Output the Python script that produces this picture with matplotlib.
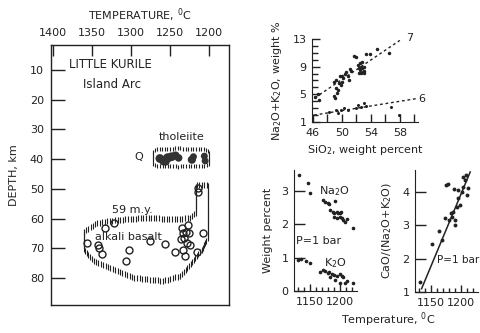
import numpy as np
import matplotlib.pyplot as plt

# ---- main panel: depth vs temperature ----
temp_ticks = [1400, 1350, 1300, 1250, 1200]
depth_ticks = [10, 20, 30, 40, 50, 60, 70, 80]

# alkali basalt samples (open circles)
ab_temp = [1357, 1342, 1341, 1337, 1334, 1322, 1302, 1307, 1276, 1257, 1244,
           1235, 1233, 1236, 1232, 1229, 1227, 1226, 1228, 1225, 1233, 1231,
           1216, 1208, 1214, 1214]
ab_depth = [68.4, 68.8, 70.0, 71.8, 63.3, 61.5, 70.7, 74.4, 67.6, 68.7, 71.4,
            63.3, 65.0, 66.9, 66.7, 64.4, 62.2, 65.0, 68.4, 68.9, 70.6, 72.6,
            71.2, 64.8, 49.6, 51.2]

# outline of the alkali basalt field
ab_field_t = [1360, 1344, 1320, 1282, 1244, 1224, 1217, 1217, 1201, 1201,
              1208, 1222, 1237, 1259, 1295, 1327, 1350, 1360, 1360]
ab_field_d = [64.5, 61.5, 60.5, 59.8, 60.2, 59.8, 58.1, 48.7, 48.7, 66.2,
              69.9, 75.0, 79.4, 81.0, 80.0, 76.7, 74.0, 70.6, 64.5]

# outline of the tholeiite field
th_field_t = [1272, 1268, 1240, 1205, 1200, 1200, 1205, 1240, 1268, 1272, 1272]
th_field_d = [37.5, 36.6, 36.4, 36.6, 37.5, 41.5, 42.3, 42.5, 42.3, 41.5, 37.5]

# dark tholeiite spots
th_temp = [1263, 1258, 1253, 1248, 1243, 1239, 1255, 1222, 1220, 1206, 1205]
th_depth = [39.8, 40.6, 39.6, 39.2, 38.8, 39.6, 41.0, 40.2, 39.2, 39.0, 40.6]
th_size = [40, 45, 45, 40, 35, 30, 25, 35, 25, 25, 25]

# ---- SiO2 panel ----
sio2_hi = [46.3, 46.9, 46.7, 48.9, 49.1, 49.4, 49.5, 49.2, 48.9, 49.2, 49.6,
           49.9, 50.0, 50.2, 49.8, 50.1, 50.4, 50.6, 50.8, 51.0, 51.1, 51.3,
           51.7, 51.9, 52.2, 52.4, 52.5, 52.6, 52.8, 53.0, 52.9, 53.1, 52.7,
           52.4, 53.1, 52.8, 52.5, 53.3, 53.9, 54.9, 56.5]
alk_hi = [4.6, 4.2, 5.0, 4.7, 4.4, 5.2, 5.6, 5.9, 6.8, 7.1, 6.6,
          6.4, 6.8, 7.3, 7.6, 7.7, 8.0, 8.3, 7.7, 7.1, 8.6, 8.4,
          10.5, 10.4, 9.3, 8.8, 8.5, 9.0, 8.8, 9.0, 8.3, 8.1, 8.1,
          8.1, 8.4, 9.7, 9.6, 10.8, 10.9, 11.5, 11.0]
sio2_lo = [48.3, 49.2, 49.5, 49.9, 50.3, 50.8, 51.9, 52.2, 52.6, 53.1, 53.4,
           56.8, 57.9]
alk_lo = [2.5, 2.7, 2.3, 2.7, 3.0, 2.7, 3.0, 3.5, 3.2, 3.7, 3.3, 3.1, 2.0]
line7_x = [46.3, 58.0]
line7_y = [4.5, 12.8]
line6_x = [46.2, 60.4]
line6_y = [2.0, 4.4]

# ---- Na2O, K2O vs temperature ----
na_t = [1132, 1146, 1150, 1171, 1175, 1179, 1182, 1191, 1183, 1188, 1190,
        1194, 1197, 1200, 1201, 1189, 1194, 1199, 1203, 1205, 1208, 1211, 1221]
na_v = [3.48, 3.23, 2.95, 2.73, 2.68, 2.63, 2.60, 2.70, 2.43, 2.38, 2.33,
        2.38, 2.35, 2.33, 2.38, 2.23, 2.20, 2.23, 2.18, 2.13, 2.08, 2.15, 1.88]
k_t = [1130, 1135, 1143, 1149, 1166, 1171, 1175, 1179, 1182, 1186, 1190,
       1194, 1199, 1203, 1205, 1183, 1191, 1200, 1208, 1211, 1222]
k_v = [0.93, 0.95, 0.90, 0.85, 0.58, 0.63, 0.60, 0.55, 0.58, 0.51, 0.48,
       0.45, 0.51, 0.45, 0.41, 0.43, 0.33, 0.25, 0.23, 0.31, 0.23]

# ---- CaO/(Na2O+K2O) vs temperature ----
ca_t = [1131, 1151, 1163, 1168, 1173, 1175, 1178, 1180, 1183, 1184, 1187,
        1189, 1190, 1193, 1195, 1198, 1195, 1188, 1201, 1203, 1206, 1208,
        1210, 1212, 1203]
ca_v = [1.31, 2.44, 2.84, 2.56, 3.21, 4.21, 4.24, 3.16, 3.36, 3.26, 3.41,
        3.01, 3.16, 3.56, 3.81, 3.61, 4.06, 4.08, 4.01, 4.16, 4.36, 4.51,
        3.91, 4.11, 4.46]
ca_fit_t = [1134, 1215]
ca_fit_v = [1.1, 4.6]

W, H = 481, 333
fig = plt.figure(figsize=(W / 100, H / 100), dpi=100)
plt.rcParams['font.family'] = 'DejaVu Sans'
ink = '#222222'


def px_axes(l, t, r, b):
    return fig.add_axes([l / W, 1 - b / H, (r - l) / W, (b - t) / H])


def ticked_outline(ax, xs, ys, step=2.6, ms=4.0):
    # vertical comb marks along a field outline
    pts = ax.transData.transform(np.column_stack([xs, ys]))
    seg = np.hypot(*np.diff(pts, axis=0).T)
    s = np.concatenate([[0], np.cumsum(seg)])
    ss = np.arange(0, s[-1], step)
    dense = np.column_stack([np.interp(ss, s, pts[:, 0]), np.interp(ss, s, pts[:, 1])])
    d = ax.transData.inverted().transform(dense)
    ax.plot(d[:, 0], d[:, 1], ls='none', marker='|', ms=ms, mew=0.8, color=ink)


# main panel
ax = px_axes(51, 45, 229, 305)
ax.set_xlim(1402.6, 1174.4)
ax.set_ylim(89.1, 1.6)
ax.xaxis.tick_top()
ax.set_xticks(temp_ticks)
ax.set_yticks(depth_ticks)
ax.tick_params(axis='x', direction='in', length=8, width=1, pad=5, labelsize=8, colors=ink)
ax.tick_params(axis='y', direction='in', length=10, width=1, pad=5, labelsize=8, colors=ink)
for sp in ax.spines.values():
    sp.set_linewidth(1)
    sp.set_color(ink)
ax.set_title('TEMPERATURE, $^0$C', fontsize=8, pad=18, color=ink)
ax.set_ylabel('DEPTH, km', fontsize=8, color=ink, labelpad=8)

ticked_outline(ax, ab_field_t, ab_field_d)
ticked_outline(ax, th_field_t, th_field_d, ms=3.5)
ax.scatter(th_temp, th_depth, s=th_size, color='#333333', edgecolors='none')
ax.plot(ab_temp, ab_depth, ls='none', marker='o', ms=5, mfc='none', mec=ink, mew=1)

ax.text(1326, 8, 'LITTLE KURILE', fontsize=8.5, ha='center', va='center', color=ink)
ax.text(1324, 14.8, 'Island Arc', fontsize=8.5, ha='center', va='center', color=ink)
ax.text(1235, 32.5, 'tholeiite', fontsize=8, ha='center', va='center', color=ink)
ax.text(1290, 39.3, 'Q', fontsize=8, ha='center', va='center', color=ink)
ax.text(1298, 57.2, '59 m.y.', fontsize=8, ha='center', va='center', color=ink)
ax.text(1303, 66.2, 'alkali basalt', fontsize=8, ha='center', va='center', color=ink)

# SiO2 panel
ax2 = px_axes(312, 39, 418, 122)
ax2.set_xlim(45.9, 60.5)
ax2.set_ylim(1, 13)
ax2.set_xticks(np.arange(46, 61, 2))
ax2.set_xticklabels(['46', '', '50', '', '54', '', '58', ''])
ax2.set_yticks([1, 5, 9, 13])
ax2.set_yticks(np.arange(1, 14, 1), minor=True)
ax2.tick_params(which='both', direction='in', width=1, labelsize=8, colors=ink, pad=4)
ax2.tick_params(axis='x', length=6)
ax2.tick_params(axis='y', which='major', length=6)
ax2.tick_params(axis='y', which='minor', length=4)
for side in ['top', 'right']:
    ax2.spines[side].set_visible(False)
for side in ['left', 'bottom']:
    ax2.spines[side].set_color(ink)
ax2.plot(sio2_hi, alk_hi, ls='none', marker='o', ms=1.5, color=ink)
ax2.plot(sio2_lo, alk_lo, ls='none', marker='o', ms=1.2, color=ink)
ax2.plot(line7_x, line7_y, ls=(0, (2, 2)), lw=1, color=ink)
ax2.plot(line6_x, line6_y, ls=(0, (2, 2)), lw=1, color=ink)
ax2.text(59.3, 13.2, '7', fontsize=8, ha='center', va='center', color=ink)
ax2.text(61.0, 4.3, '6', fontsize=8, ha='center', va='center', color=ink)
ax2.set_xlabel('SiO$_2$, weight percent', fontsize=8, color=ink, labelpad=4)
ax2.set_ylabel('Na$_2$O+K$_2$O, weight %', fontsize=8, color=ink, labelpad=6)

# Na2O / K2O panel
ax3 = px_axes(294, 170, 357, 291)
ax3.set_xlim(1123, 1228)
ax3.set_ylim(0, 3.63)
ax3.set_xticks([1150, 1200])
ax3.set_xticks(np.arange(1130, 1230, 10), minor=True)
ax3.set_yticks([0, 1, 2, 3])
ax3.plot(na_t, na_v, ls='none', marker='o', ms=1.6, color=ink)
ax3.plot(k_t, k_v, ls='none', marker='o', ms=1.6, color=ink)
ax3.text(1190, 3.0, 'Na$_2$O', fontsize=8, ha='center', va='center', color=ink)
ax3.text(1192, 0.85, 'K$_2$O', fontsize=8, ha='center', va='center', color=ink)
ax3.text(1126, 1.5, 'P=1 bar', fontsize=8, ha='left', va='center', color=ink)
ax3.set_ylabel('Weight percent', fontsize=8, color=ink, labelpad=6)

# CaO panel
ax4 = px_axes(415, 170, 478, 292)
ax4.set_xlim(1123, 1228)
ax4.set_ylim(1, 4.66)
ax4.set_xticks([1150, 1200])
ax4.set_xticks(np.arange(1130, 1230, 10), minor=True)
ax4.set_yticks([1, 2, 3, 4])
ax4.plot(ca_t, ca_v, ls='none', marker='o', ms=1.8, color=ink)
ax4.plot(ca_fit_t, ca_fit_v, lw=1.1, color=ink)
ax4.text(1159, 1.95, 'P=1 bar', fontsize=7.5, ha='left', va='center', color=ink)
ax4.set_ylabel('CaO/(Na$_2$O+K$_2$O)', fontsize=8, color=ink, labelpad=6)

for a in (ax3, ax4):
    a.tick_params(which='both', direction='in', width=1, labelsize=8, colors=ink, pad=4)
    a.tick_params(axis='x', which='major', length=5)
    a.tick_params(axis='x', which='minor', length=3)
    a.tick_params(axis='y', length=8)
    for side in ['top', 'right']:
        a.spines[side].set_visible(False)
    for side in ['left', 'bottom']:
        a.spines[side].set_color(ink)

fig.text(388 / W, 1 - 320 / H, 'Temperature, $^0$C', fontsize=8, ha='center', va='center', color=ink)

fig.savefig('out.png', dpi=100)
